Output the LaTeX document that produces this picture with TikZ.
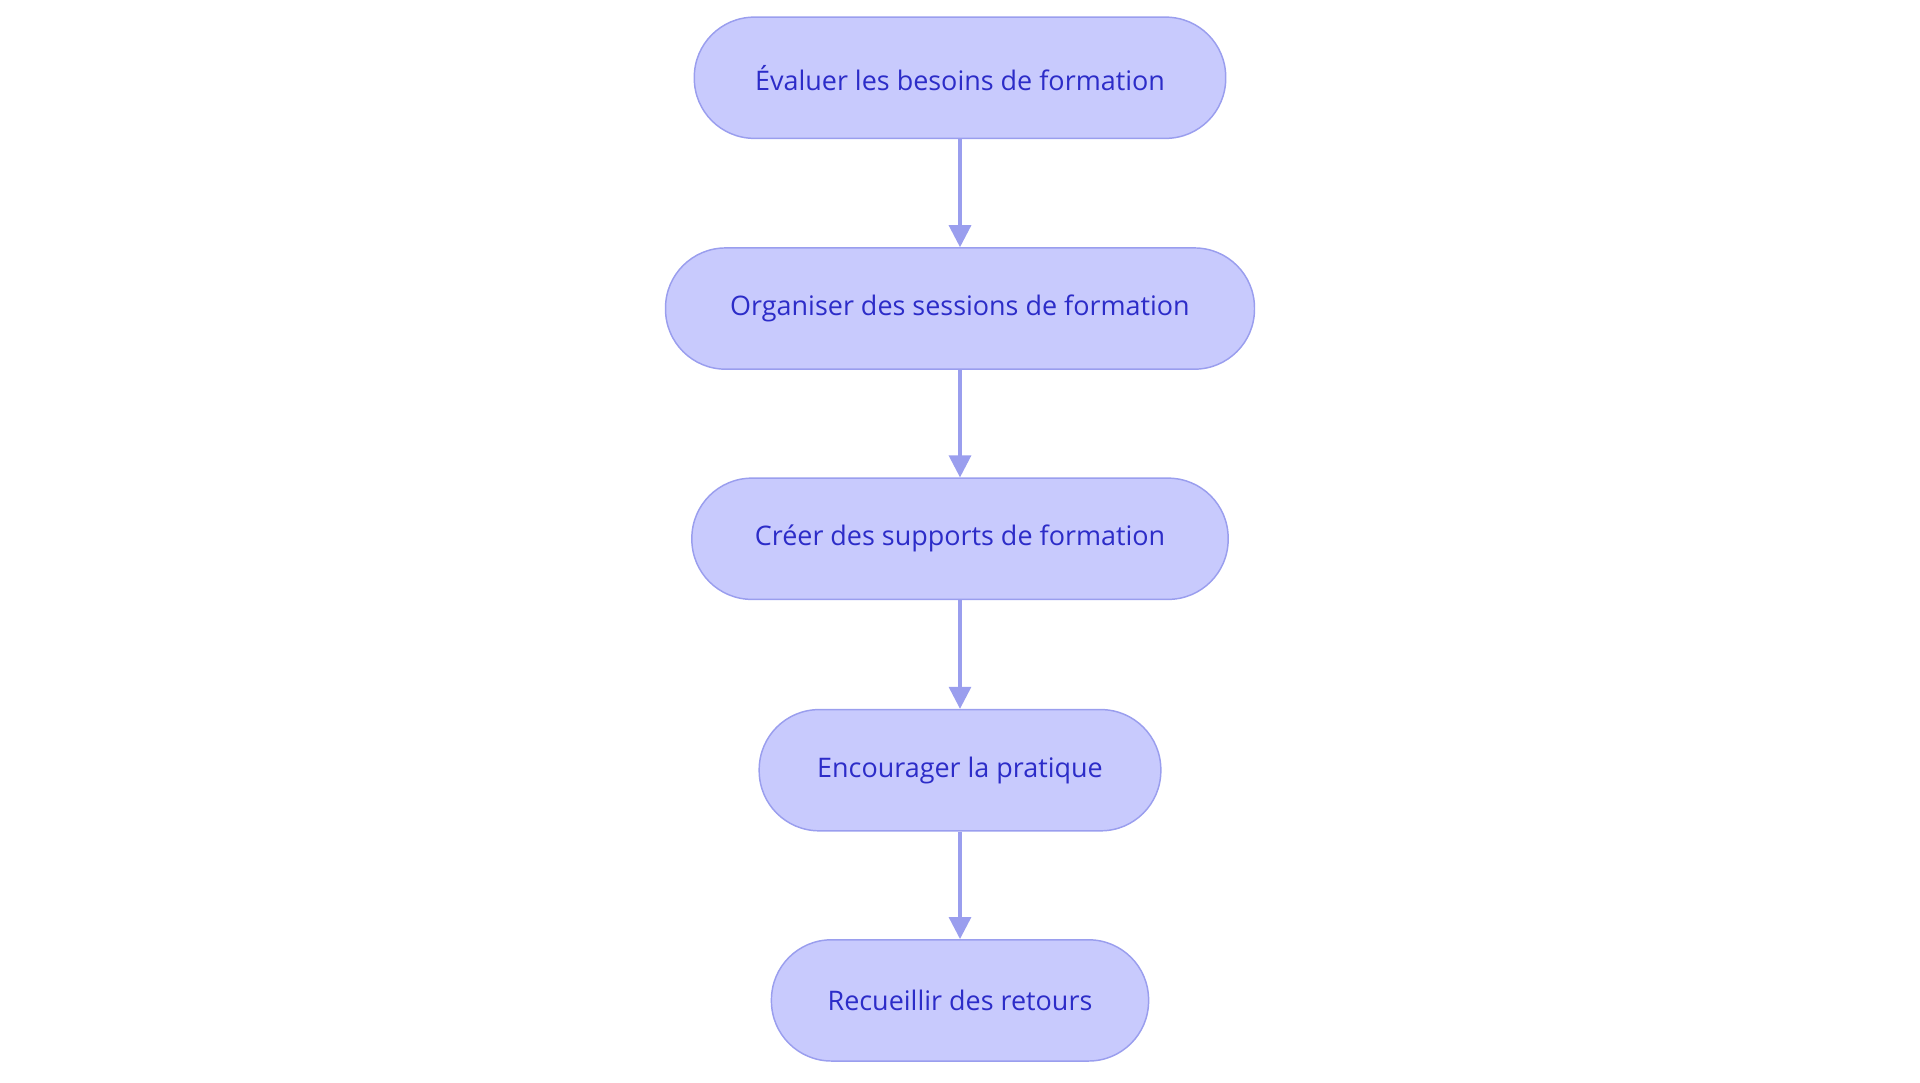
\documentclass[tikz,border=0pt]{standalone}
\usepackage{fontspec}
\setmainfont{Open Sans}
\usetikzlibrary{arrows.meta}
\definecolor{boxfill}{HTML}{C8CAFD}
\definecolor{boxline}{HTML}{9A9EEE}
\definecolor{txt}{HTML}{2C2CC8}
\tikzset{
  stepbox/.style={draw=boxline, fill=boxfill, line width=1.2pt, rounded corners=49pt, minimum height=99pt, text=txt, font=\fontsize{22}{26}\selectfont, inner sep=0pt},
  conn/.style={draw=boxline, line width=2.6pt, -{Triangle[length=18pt,width=18pt]}}
}
\begin{document}
\begin{tikzpicture}[x=1pt,y=1pt]
\useasboundingbox (0,0) rectangle (1568,884);
\node[stepbox, minimum width=434pt] (a) at (784,820.5) {Évaluer les besoins de formation};
\node[stepbox, minimum width=481pt] (b) at (784,632) {Organiser des sessions de formation};
\node[stepbox, minimum width=438pt] (c) at (784,444) {Créer des supports de formation};
\node[stepbox, minimum width=328pt] (d) at (784,255) {Encourager la pratique};
\node[stepbox, minimum width=308pt] (e) at (784,67) {Recueillir des retours};
\draw[conn] (a) -- (b);
\draw[conn] (b) -- (c);
\draw[conn] (c) -- (d);
\draw[conn] (d) -- (e);
\end{tikzpicture}
\end{document}
